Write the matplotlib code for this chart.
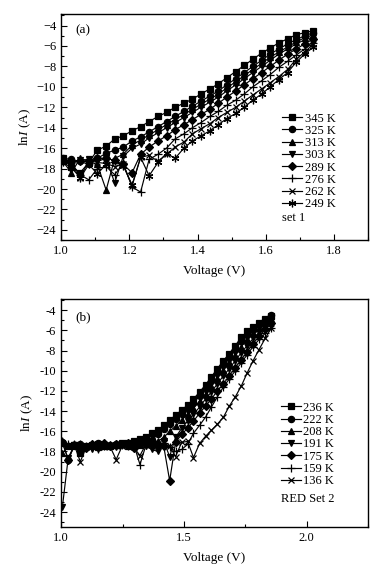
import numpy as np
import matplotlib
matplotlib.use('Agg')
import matplotlib.pyplot as plt
from matplotlib.ticker import MultipleLocator, FuncFormatter

# ======================== data ========================

# panel (a): set 1, voltage (V) and ln I (A)
volt_a = [1.005, 1.030, 1.056, 1.081, 1.106, 1.132, 1.157, 1.182, 1.208, 1.233,
          1.258, 1.284, 1.309, 1.334, 1.360, 1.385, 1.410, 1.436, 1.461, 1.486,
          1.512, 1.537, 1.562, 1.588, 1.613, 1.638, 1.664, 1.689, 1.714, 1.740]

labels_a = ['345 K', '325 K', '313 K', '303 K', '289 K', '276 K', '262 K', '249 K']

lnI_345 = [-17.0, -17.8, -18.4, -17.4, -16.2, -15.8, -15.1, -14.8, -14.3, -13.9,
           -13.4, -12.9, -12.5, -12.0, -11.6, -11.2, -10.7, -10.2, -9.7, -9.1,
           -8.5, -7.9, -7.3, -6.7, -6.2, -5.7, -5.3, -4.9, -4.7, -4.5]
lnI_325 = [-17.0, -17.1, -17.3, -17.6, -17.0, -16.5, -16.2, -15.9, -15.3, -14.9,
           -14.4, -13.9, -13.4, -12.9, -12.4, -11.9, -11.4, -10.9, -10.4, -9.8,
           -9.2, -8.6, -8.0, -7.4, -6.8, -6.3, -5.8, -5.4, -5.0, -4.7]
lnI_313 = [-17.3, -18.4, -17.0, -17.3, -17.6, -20.1, -17.0, -16.6, -15.7, -15.2,
           -14.7, -14.2, -13.7, -13.2, -12.7, -12.2, -11.7, -11.2, -10.7, -10.1,
           -9.5, -8.9, -8.3, -7.7, -7.1, -6.6, -6.1, -5.6, -5.2, -4.9]
lnI_303 = [-17.3, -17.5, -17.2, -17.1, -17.3, -17.0, -19.4, -16.8, -16.0, -15.6,
           -15.0, -14.5, -14.0, -13.5, -13.0, -12.5, -12.0, -11.5, -11.0, -10.4,
           -9.8, -9.2, -8.6, -8.0, -7.4, -6.8, -6.3, -5.8, -5.4, -5.1]
lnI_289 = [-17.2, -17.3, -17.3, -17.3, -17.0, -17.0, -17.2, -17.6, -18.4, -16.6,
           -15.9, -15.3, -14.8, -14.2, -13.7, -13.2, -12.7, -12.2, -11.6, -11.0,
           -10.4, -9.8, -9.2, -8.6, -8.0, -7.4, -6.8, -6.3, -5.8, -5.3]
lnI_276 = [-17.3, -17.5, -18.6, -19.1, -18.0, -17.8, -18.6, -17.5, -19.8, -20.3,
           -17.1, -16.6, -16.0, -15.1, -14.6, -14.0, -13.5, -12.9, -12.4, -11.8,
           -11.3, -10.7, -10.0, -9.4, -8.8, -8.1, -7.5, -6.9, -6.3, -5.7]
lnI_262 = [-17.3, -17.6, -18.9, -17.2, -17.4, -17.5, -17.8, -17.6, -19.7, -16.9,
           -16.7, -17.3, -16.6, -15.9, -15.4, -14.6, -14.1, -13.6, -13.0, -12.5,
           -12.0, -11.4, -10.8, -10.2, -9.6, -9.0, -8.3, -7.3, -6.6, -5.8]
lnI_249 = [-17.4, -17.9, -18.9, -17.6, -18.5, -17.6, -17.3, -17.7, -19.6, -16.9,
           -18.7, -17.4, -16.5, -17.0, -16.0, -15.3, -14.8, -14.3, -13.7, -13.1,
           -12.6, -12.0, -11.3, -10.7, -10.0, -9.3, -8.6, -7.6, -6.8, -6.1]

# panel (b): RED set 2
volt_b = [1.005, 1.029, 1.054, 1.078, 1.102, 1.126, 1.151, 1.175, 1.199, 1.224,
          1.248, 1.272, 1.296, 1.321, 1.345, 1.369, 1.394, 1.418, 1.442, 1.466,
          1.491, 1.515, 1.539, 1.564, 1.588, 1.612, 1.636, 1.661, 1.685, 1.709,
          1.734, 1.758, 1.782, 1.806, 1.831, 1.855]

labels_b = ['236 K', '222 K', '208 K', '191 K', '175 K', '159 K', '136 K']

lnI_236 = [-17.2, -17.5, -17.4, -18.2, -17.5, -17.4, -17.3, -17.4, -17.5, -17.4,
           -17.2, -17.2, -17.0, -16.8, -16.6, -16.2, -15.9, -15.4, -14.9, -14.4,
           -13.9, -13.4, -12.8, -12.1, -11.4, -10.6, -9.8, -9.0, -8.3, -7.5,
           -6.7, -6.1, -5.7, -5.3, -4.9, -4.6]
lnI_222 = [-17.1, -18.8, -17.4, -17.3, -17.6, -17.4, -17.2, -17.5, -17.4, -17.3,
           -17.3, -17.4, -17.2, -17.1, -17.0, -16.9, -16.3, -15.8, -15.3, -14.8,
           -14.3, -13.8, -13.2, -12.5, -11.8, -11.0, -10.2, -9.4, -8.7, -7.9,
           -7.1, -6.5, -6.0, -5.5, -5.0, -4.5]
lnI_208 = [-18.2, -17.4, -17.5, -17.6, -17.5, -17.3, -17.6, -17.4, -17.3, -17.4,
           -17.3, -17.5, -17.3, -17.4, -17.3, -17.2, -17.0, -16.6, -16.0, -15.5,
           -14.9, -14.3, -13.7, -13.0, -12.3, -11.5, -10.7, -9.9, -9.1, -8.4,
           -7.6, -6.9, -6.3, -5.8, -5.3, -4.9]
lnI_191 = [-23.5, -18.6, -17.4, -17.5, -17.7, -17.8, -17.8, -17.4, -17.5, -17.6,
           -17.4, -17.5, -17.6, -17.4, -17.5, -17.8, -18.0, -17.0, -18.5, -16.6,
           -15.7, -15.0, -14.3, -13.6, -12.8, -12.1, -11.3, -10.5, -9.8, -9.0,
           -8.2, -7.5, -6.8, -6.2, -5.6, -5.1]
lnI_175 = [-17.1, -18.8, -17.4, -17.6, -17.7, -17.3, -17.5, -17.2, -17.5, -17.3,
           -17.3, -17.2, -17.7, -17.3, -17.2, -17.0, -17.4, -17.5, -20.9, -17.1,
           -16.3, -15.7, -15.0, -14.2, -13.5, -12.8, -12.0, -11.3, -10.5, -9.7,
           -8.9, -8.1, -7.3, -6.6, -5.9, -5.3]
lnI_159 = [-17.0, -17.3, -17.3, -17.3, -17.5, -17.6, -17.8, -17.5, -17.5, -17.3,
           -17.4, -17.5, -17.3, -19.3, -17.4, -17.3, -17.6, -17.2, -17.6, -18.0,
           -17.8, -17.3, -16.2, -15.4, -14.6, -13.6, -12.6, -11.6, -10.8, -10.0,
           -9.2, -8.4, -7.6, -6.9, -6.3, -5.8]
lnI_136 = [-17.2, -17.5, -17.4, -19.0, -17.6, -17.5, -17.4, -17.6, -17.5, -18.8,
           -17.5, -17.4, -17.6, -18.4, -17.3, -17.0, -17.3, -17.2, -17.5, -18.5,
           -17.1, -17.0, -18.6, -17.2, -16.5, -15.9, -15.3, -14.6, -13.5, -12.6,
           -11.5, -10.2, -9.0, -7.9, -6.8, -5.8]

# ======================== style ================================

plt.rcParams['font.family'] = 'Liberation Serif'
plt.rcParams['mathtext.fontset'] = 'custom'
plt.rcParams['mathtext.rm'] = 'Liberation Serif'
plt.rcParams['mathtext.it'] = 'Liberation Serif:italic'
plt.rcParams['font.size'] = 9

markers_a = ['s', 'o', '^', 'v', 'D', '+', 'x', (6, 2, 0)]
markers_b = ['s', 'o', '^', 'v', 'D', '+', 'x']
msizes = {'s': 4.3, 'o': 4.5, '^': 4.8, 'v': 4.8, 'D': 3.9, '+': 5.5, 'x': 4.6}


def draw_panel(ax, volt, series, labels, markers):
    for lnI, lab, mk in zip(series, labels, markers):
        ms = msizes.get(mk, 5.5) if isinstance(mk, str) else 5.5
        ax.plot(volt, lnI, color='k', linewidth=0.85, marker=mk, markersize=ms,
                markeredgewidth=0.9, label=lab)
    for side in ['top', 'right', 'bottom', 'left']:
        ax.spines[side].set_linewidth(1.0)
    ax.tick_params(which='both', direction='in', top=False, right=False,
                   labelsize=9, width=0.8)
    ax.tick_params(which='major', length=4)
    ax.tick_params(which='minor', length=2)
    ax.set_xlabel('Voltage (V)', fontsize=9.5, labelpad=6)
    ax.set_ylabel(r'ln$\mathit{I}$ (A)', fontsize=9.5, labelpad=3)
    ax.yaxis.set_major_locator(MultipleLocator(2))
    ax.yaxis.set_minor_locator(MultipleLocator(1))


fig = plt.figure(figsize=(3.87, 5.73), dpi=100)

# -------- panel (a) --------
ax_a = fig.add_axes([0.158, 0.581, 0.793, 0.394])
draw_panel(ax_a, volt_a,
           [lnI_345, lnI_325, lnI_313, lnI_303, lnI_289, lnI_276, lnI_262, lnI_249],
           labels_a, markers_a)
ax_a.set_xlim(1.0, 1.9)
ax_a.set_ylim(-25, -2.9)
ax_a.xaxis.set_major_locator(MultipleLocator(0.2))
ax_a.xaxis.set_minor_locator(MultipleLocator(0.1))
ax_a.xaxis.set_major_formatter(FuncFormatter(lambda v, p: f'{v:.1f}'))
ax_a.yaxis.set_major_formatter(FuncFormatter(lambda v, p: f'{v:.0f}'.replace('-', '\u2212')))
ax_a.text(0.045, 0.915, '(a)', transform=ax_a.transAxes, fontsize=9.5)
ax_a.legend(loc='upper left', bbox_to_anchor=(0.72, 0.565), frameon=False,
            fontsize=9, handlelength=1.6, handletextpad=0.2, labelspacing=0.02,
            borderpad=0, borderaxespad=0)
ax_a.text(0.72, 0.085, 'set 1', transform=ax_a.transAxes, fontsize=9)

# -------- panel (b) --------
ax_b = fig.add_axes([0.158, 0.080, 0.793, 0.398])
draw_panel(ax_b, volt_b,
           [lnI_236, lnI_222, lnI_208, lnI_191, lnI_175, lnI_159, lnI_136],
           labels_b, markers_b)
ax_b.set_xlim(1.0, 2.25)
ax_b.set_ylim(-25.5, -2.9)
ax_b.xaxis.set_major_locator(MultipleLocator(0.5))
ax_b.xaxis.set_minor_locator(MultipleLocator(0.25))
ax_b.xaxis.set_major_formatter(FuncFormatter(lambda v, p: f'{v:.1f}'))
ax_b.yaxis.set_major_formatter(FuncFormatter(lambda v, p: f'{v:.0f}'))
ax_b.text(0.045, 0.905, '(b)', transform=ax_b.transAxes, fontsize=9.5)
ax_b.legend(loc='upper left', bbox_to_anchor=(0.715, 0.55), frameon=False,
            fontsize=9, handlelength=1.6, handletextpad=0.2, labelspacing=0.02,
            borderpad=0, borderaxespad=0)
ax_b.text(0.715, 0.11, 'RED Set 2', transform=ax_b.transAxes, fontsize=9)

fig.savefig('out.png', dpi=100)
